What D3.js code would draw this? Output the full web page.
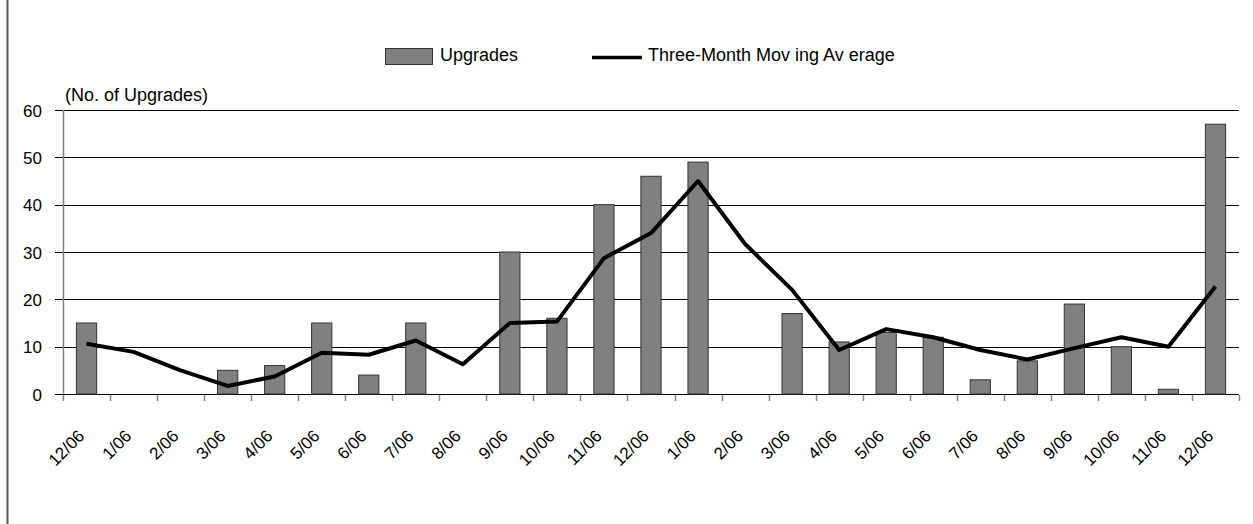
<!DOCTYPE html>
<html lang="en">
<head>
  <meta charset="UTF-8">
  <title>Upgrades and Three-Month Moving Average</title>
  <script src="https://d3js.org/d3.v7.min.js"></script>
  <style>
    body {
      margin: 0;
      background: #fff;
      font-family: Arial, 'Liberation Sans', sans-serif;
    }
    svg { display: block; }
    .tick-label { font-size: 17px; fill: #000; }
    .big-label { font-size: 18px; fill: #000; }
  </style>
</head>
<body>
  <svg id="chart" width="1253" height="524"></svg>

  <script>
    // data
    const months = ['12/06', '1/06', '2/06', '3/06', '4/06', '5/06', '6/06', '7/06', '8/06',
                    '9/06', '10/06', '11/06', '12/06', '1/06', '2/06', '3/06', '4/06', '5/06',
                    '6/06', '7/06', '8/06', '9/06', '10/06', '11/06', '12/06'];
    const upgrades = [15, 0, 0, 5, 6, 15, 4, 15, 0, 30, 16, 40, 46, 49, 0, 17, 11, 13,
                      12, 3, 7, 19, 10, 1, 57];
    const movingAvg = [10.6, 8.9, 5.0, 1.7, 3.7, 8.7, 8.3, 11.3, 6.3, 15.0, 15.3, 28.7, 34.0,
                       45.0, 31.7, 22.0, 9.3, 13.7, 12.0, 9.3, 7.3, 9.7, 12.0, 10.0, 22.7];
    const yTicks = [0, 10, 20, 30, 40, 50, 60];

    const svg = d3.select('#chart');
    const plot = { left: 63, right: 1239, top: 110, bottom: 394 };

    // keys are indices because month labels repeat
    const x = d3.scaleBand()
      .domain(months.map((m, i) => i))
      .range([plot.left, plot.right])
      .padding(0);

    const y = d3.scaleLinear()
      .domain([0, 60])
      .range([plot.bottom, plot.top]);

    // outer frame edge on the left
    svg.append('line')
      .attr('x1', 7.5).attr('x2', 7.5)
      .attr('y1', 0).attr('y2', 524)
      .attr('stroke', '#555').attr('stroke-width', 2);

    // gridlines + y labels
    svg.append('g')
      .selectAll('line')
      .data(yTicks)
      .enter().append('line')
      .attr('x1', plot.left - 8)
      .attr('x2', plot.right)
      .attr('y1', d => Math.round(y(d)) + 0.5)
      .attr('y2', d => Math.round(y(d)) + 0.5)
      .attr('stroke', '#000')
      .attr('stroke-width', 1);

    svg.append('g')
      .selectAll('text')
      .data(yTicks)
      .enter().append('text')
      .attr('class', 'tick-label')
      .attr('x', plot.left - 21)
      .attr('y', d => y(d) + 0.5)
      .attr('dy', '0.36em')
      .attr('text-anchor', 'end')
      .text(d => d);

    // y axis line
    svg.append('line')
      .attr('x1', plot.left + 0.5).attr('x2', plot.left + 0.5)
      .attr('y1', y(60)).attr('y2', y(0))
      .attr('stroke', '#808080').attr('stroke-width', 1.5);

    // x tick marks at band edges
    const edges = months.map((m, i) => x(i)).concat([plot.right]);
    svg.append('g')
      .selectAll('line')
      .data(edges)
      .enter().append('line')
      .attr('x1', d => Math.round(d) + 0.5)
      .attr('x2', d => Math.round(d) + 0.5)
      .attr('y1', y(0) + 1)
      .attr('y2', y(0) + 7)
      .attr('stroke', '#808080')
      .attr('stroke-width', 1.5);

    // x labels, rotated
    svg.append('g')
      .selectAll('text')
      .data(months)
      .enter().append('text')
      .attr('class', 'tick-label')
      .attr('text-anchor', 'end')
      .attr('transform', (d, i) =>
        `translate(${x(i) + x.bandwidth() / 2 - 1},${plot.bottom + 43}) rotate(-45)`)
      .text(d => d);

    // bars (zero months have no bar)
    const barW = x.bandwidth() * 0.43;
    svg.append('g')
      .selectAll('rect')
      .data(upgrades.map((v, i) => ({ i, v })).filter(d => d.v > 0))
      .enter().append('rect')
      .attr('x', d => x(d.i) + (x.bandwidth() - barW) / 2)
      .attr('y', d => y(d.v))
      .attr('width', barW)
      .attr('height', d => y(0) - y(d.v))
      .attr('fill', '#808080')
      .attr('stroke', '#333')
      .attr('stroke-width', 1);

    // moving average line
    const line = d3.line()
      .x((d, i) => x(i) + x.bandwidth() / 2)
      .y(d => y(d));

    svg.append('path')
      .datum(movingAvg)
      .attr('d', line)
      .attr('fill', 'none')
      .attr('stroke', '#000')
      .attr('stroke-width', 4)
      .attr('stroke-linejoin', 'round');

    // axis title
    svg.append('text')
      .attr('class', 'big-label')
      .attr('x', 65)
      .attr('y', 101)
      .text('(No. of Upgrades)');

    // legend
    const legend = svg.append('g');
    legend.append('rect')
      .attr('x', 385.5).attr('y', 48.5)
      .attr('width', 47).attr('height', 16)
      .attr('fill', '#808080').attr('stroke', '#333');
    legend.append('text')
      .attr('class', 'big-label')
      .attr('x', 440).attr('y', 61)
      .text('Upgrades');
    legend.append('line')
      .attr('x1', 592).attr('x2', 642)
      .attr('y1', 57.5).attr('y2', 57.5)
      .attr('stroke', '#000').attr('stroke-width', 3.5);
    legend.append('text')
      .attr('class', 'big-label')
      .attr('x', 648).attr('y', 61)
      .text('Three-Month Mov ing Av erage');
  </script>
</body>
</html>
